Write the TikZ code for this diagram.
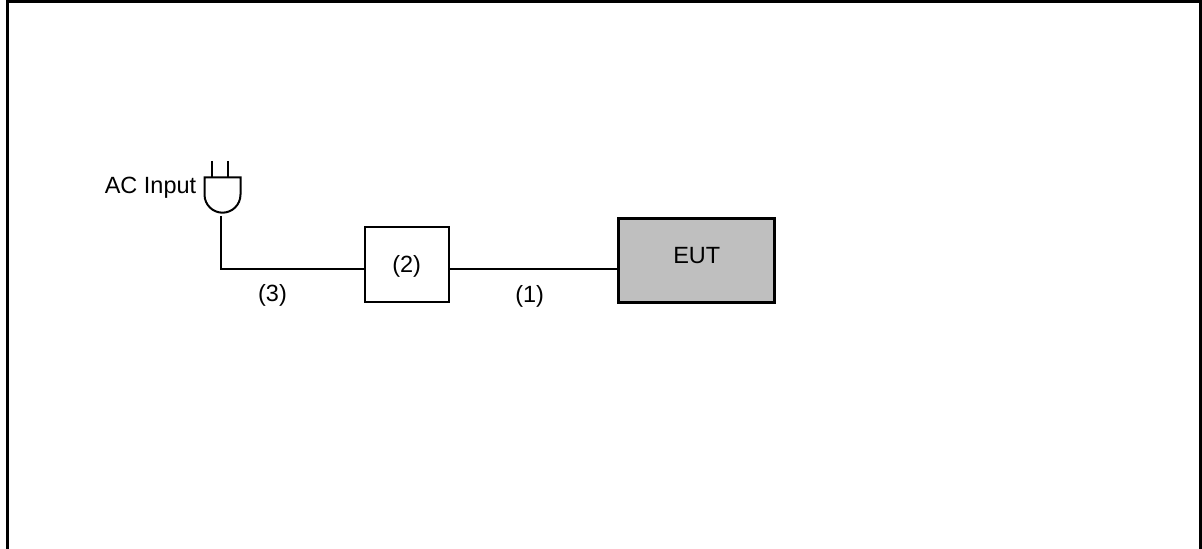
\documentclass[tikz,border=0pt]{standalone}
\usepackage{fontspec}
\setmainfont{Liberation Sans}
\tikzset{
  every node/.style={font=\fontsize{17.6pt}{20pt}\selectfont, inner sep=0pt, outer sep=0pt, text=black},
  wire/.style={draw=black, line width=1.5pt},
  lbl/.style={anchor=base},
  whitebox/.style={draw=black, fill=white, line width=1.5pt, minimum width=63pt, minimum height=56.7pt},
  eutbox/.style={draw=black, fill=black!25, line width=2.3pt, minimum width=116.8pt, minimum height=62.5pt},
  frameline/.style={draw=black, line width=2.4pt},
  plugline/.style={draw=black, line width=1.5pt, line cap=butt}
}
\begin{document}
\begin{tikzpicture}[x=0.75pt,y=-0.75pt]
\useasboundingbox (0,0) rectangle (1202,549);
% frame, open at the bottom
\coordinate (fbl) at (7.6,549);
\coordinate (ftl) at (7.6,1.6);
\coordinate (ftr) at (1200.6,1.6);
\coordinate (fbr) at (1200.6,549);
\draw[frameline] (fbl) -- (ftl) -- (ftr) -- (fbr);
% boxes
\node[whitebox] (b2) at (406.7,264.5) {};
\node[eutbox] (eut) at (696.8,260.6) {};
\node[lbl] (t2) at (406.7,272) {(2)};
\node[lbl] (teut) at (696.8,263.5) {EUT};
% plug
\coordinate (pl) at (204.5,177.3);
\coordinate (pr) at (240.5,177.3);
\coordinate (plb) at (204.5,194.5);
\coordinate (prb) at (240.5,194.5);
\coordinate (p1t) at (212.3,161);
\coordinate (p1b) at (212.3,177.3);
\coordinate (p2t) at (228.3,161);
\coordinate (p2b) at (228.3,177.3);
\draw[plugline] (p1t) -- (p1b);
\draw[plugline] (p2t) -- (p2b);
\draw[plugline] (plb) -- (pl) -- (pr) -- (prb) .. controls (240.5,205) and (232,212.7) .. (222.5,212.7) .. controls (213,212.7) and (204.5,205) .. (plb);
% connectors
\coordinate (cabletop) at (221,216);
\coordinate (wireleft) at (b2.west |- 0,269.3);
\coordinate (wirea) at (b2.east |- 0,269.3);
\coordinate (wireb) at (eut.west |- 0,269.3);
\draw[wire] (cabletop) |- (wireleft);
\draw[wire] (wirea) -- (wireb);
% labels
\node[lbl] (ac) at (150.5,193.3) {AC Input};
\node[lbl] (l3) at (272.5,301) {(3)};
\node[lbl] (l1) at (529.7,302) {(1)};
\end{tikzpicture}
\end{document}
